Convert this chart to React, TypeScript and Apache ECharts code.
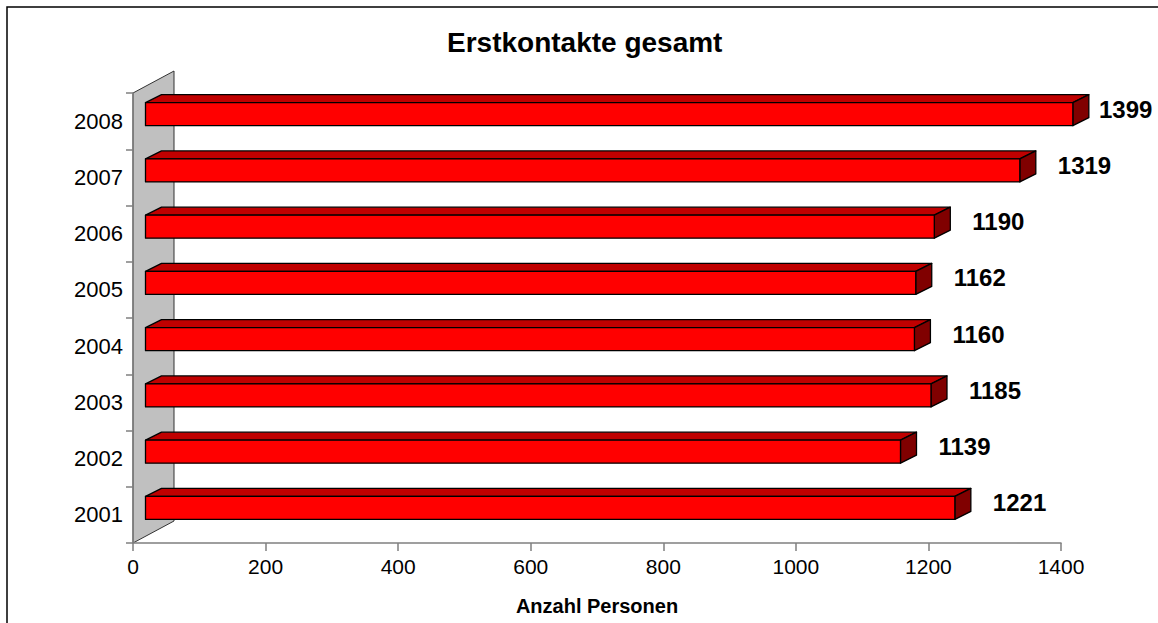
import React, { useEffect, useRef } from "react";
import * as echarts from "echarts";

const titleText = "Erstkontakte gesamt";
const xAxisName = "Anzahl Personen";
const years = ["2001", "2002", "2003", "2004", "2005", "2006", "2007", "2008"];
const values = [1221, 1139, 1185, 1160, 1162, 1190, 1319, 1399];
const xMin = 0;
const xMax = 1400;
const xInterval = 200;

const FONT = '"Liberation Sans", Arial, sans-serif';

export default function App() {
  const ref = useRef<HTMLDivElement>(null);

  useEffect(() => {
    document.body.style.margin = "0";
    if (!ref.current) return;
    const chart = echarts.init(ref.current, undefined, { renderer: "svg" });

    const barData = values.map((v, i) => [i, v]);

    const option: any = {
      animation: false,
      backgroundColor: "#ffffff",
      title: {
        text: titleText,
        left: 447,
        top: 28,
        padding: 0,
        textStyle: { fontFamily: FONT, fontWeight: "bold", fontSize: 28, color: "#000" },
      },
      grid: { left: 133, right: 97, top: 93, bottom: 80, containLabel: false },
      xAxis: {
        type: "value",
        min: xMin,
        max: xMax,
        interval: xInterval,
        z: 5,
        name: xAxisName,
        nameLocation: "middle",
        nameGap: 53,
        nameTextStyle: { fontFamily: FONT, fontWeight: "bold", fontSize: 20, color: "#000" },
        axisLine: { show: true, lineStyle: { color: "#7f7f7f", width: 1.5 } },
        axisTick: { show: true, length: 8, lineStyle: { color: "#7f7f7f", width: 1.5 } },
        axisLabel: {
          fontFamily: FONT,
          fontSize: 21,
          color: "#000",
          margin: 13,
          formatter: (v: number) => String(v),
        },
        splitLine: { show: false },
      },
      yAxis: {
        type: "category",
        data: years,
        z: 5,
        axisLine: { show: true, lineStyle: { color: "#7f7f7f", width: 1.5 } },
        axisTick: { show: true, length: 7, alignWithLabel: false, lineStyle: { color: "#7f7f7f", width: 1.5 } },
        axisLabel: { fontFamily: FONT, fontSize: 22, color: "#000", margin: 10 },
        splitLine: { show: false },
      },
      graphic: [
        {
          type: "rect",
          shape: { x: 7, y: 7, width: 1300, height: 800 },
          style: { fill: "none", stroke: "#000", lineWidth: 1.5 },
          z: 100,
        },
      ],
      series: [
        {
          type: "custom",
          name: "wall",
          z: 1,
          data: [[0, 0]],
          encode: { x: 1, y: 0 },
          renderItem: (params: any, api: any) => {
            const cs = params.coordSys;
            const x = cs.x;
            const y = cs.y;
            const h = cs.height;
            const dx = 41;
            const dy = -22;
            return {
              type: "polygon",
              shape: {
                points: [
                  [x, y + h],
                  [x, y],
                  [x + dx, y + dy],
                  [x + dx, y + h + dy],
                ],
              },
              style: { fill: "#c0c0c0", stroke: "#333", lineWidth: 1 },
            };
          },
        },
        {
          type: "custom",
          name: "Erstkontakte",
          z: 2,
          data: barData,
          encode: { x: 1, y: 0 },
          renderItem: (params: any, api: any) => {
            const cat = api.value(0);
            const v = api.value(1);
            const start = api.coord([0, cat]);
            const end = api.coord([v, cat]);
            const shift = 12.5;
            const h = 23;
            const cy = start[1] - 7;
            const x0 = start[0] + shift;
            const x1 = end[0] + shift;
            const y0 = cy - h / 2;
            const y1 = cy + h / 2;
            const dx = 16;
            const dy = -8;
            const stroke = { stroke: "#000", lineWidth: 1.3, lineJoin: "round" };
            const labelW = 56;
            const labelX = Math.min(x1 + dx + 22, api.getWidth() - labelW - 3);
            return {
              type: "group",
              children: [
                {
                  type: "polygon",
                  shape: { points: [[x0, y0], [x0 + dx, y0 + dy], [x1 + dx, y0 + dy], [x1, y0]] },
                  style: { fill: "#c00000", ...stroke },
                },
                {
                  type: "polygon",
                  shape: { points: [[x1, y0], [x1 + dx, y0 + dy], [x1 + dx, y1 + dy], [x1, y1]] },
                  style: { fill: "#800000", ...stroke },
                },
                {
                  type: "rect",
                  shape: { x: x0, y: y0, width: x1 - x0, height: h },
                  style: { fill: "#ff0000", ...stroke },
                },
                {
                  type: "text",
                  style: {
                    text: String(v),
                    x: labelX,
                    y: cy - 5,
                    verticalAlign: "middle",
                    align: "left",
                    font: `bold 24px ${FONT}`,
                    fill: "#000",
                  },
                },
              ],
            };
          },
        },
      ],
    };

    chart.setOption(option);
    return () => {
      chart.dispose();
    };
  }, []);

  return <div ref={ref} style={{ width: 1158, height: 623 }} />;
}
